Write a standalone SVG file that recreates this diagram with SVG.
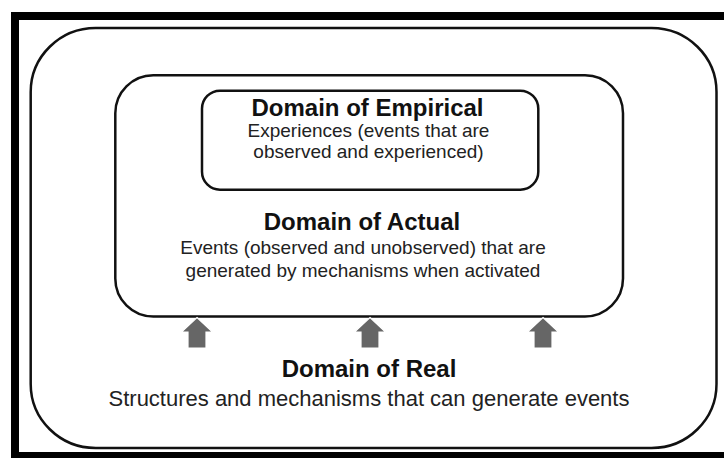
<svg xmlns="http://www.w3.org/2000/svg" width="724" height="458" viewBox="0 0 724 458">
  <style>
    .box { fill: none; stroke: #111; stroke-width: 2.5; }
    .title { font-family: "Liberation Sans", Arial, sans-serif; font-weight: bold; font-size: 24px; fill: #111; text-anchor: middle; }
    .sub { font-family: "Liberation Sans", Arial, sans-serif; font-size: 19px; fill: #222; text-anchor: middle; }
    .subl { font-family: "Liberation Sans", Arial, sans-serif; font-size: 22px; fill: #222; text-anchor: middle; }
    .arrow { fill: #666; stroke: #fff; stroke-width: 1.2; stroke-linejoin: miter; }
  </style>
  <rect x="0" y="0" width="724" height="458" fill="#fff"/>
  <rect x="15" y="16" width="720" height="440" fill="none" stroke="#000" stroke-width="8"/>

  <g id="domain-real">
    <rect class="box" x="30.7" y="28" width="685.8" height="420" rx="65" ry="64"/>
    <text class="title" x="369" y="377">Domain of Real</text>
    <text class="subl" x="369" y="405.5">Structures and mechanisms that can generate events</text>
  </g>

  <g id="domain-actual">
    <rect class="box" x="115.3" y="75.3" width="507.7" height="241.2" rx="38" ry="38"/>
    <text class="title" x="362" y="229.5">Domain of Actual</text>
    <text class="sub" x="363" y="254">Events (observed and unobserved) that are</text>
    <text class="sub" x="363" y="276.5">generated by mechanisms when activated</text>
  </g>

  <g id="domain-empirical">
    <rect class="box" x="202" y="90.7" width="336.3" height="99" rx="18" ry="18"/>
    <text class="title" x="367.5" y="115.5">Domain of Empirical</text>
    <text class="sub" x="368.5" y="137">Experiences (events that are</text>
    <text class="sub" x="368.5" y="158">observed and experienced)</text>
  </g>

  <g id="connectors">
    <polygon class="arrow" points="197,317.5 212.5,332 206,332 206,348 188,348 188,332 181.5,332"/>
    <polygon class="arrow" points="370,317.5 385.5,332 379,332 379,348 361,348 361,332 354.5,332"/>
    <polygon class="arrow" points="543,317.5 558.5,332 552,332 552,348 534,348 534,332 527.5,332"/>
  </g>
</svg>
